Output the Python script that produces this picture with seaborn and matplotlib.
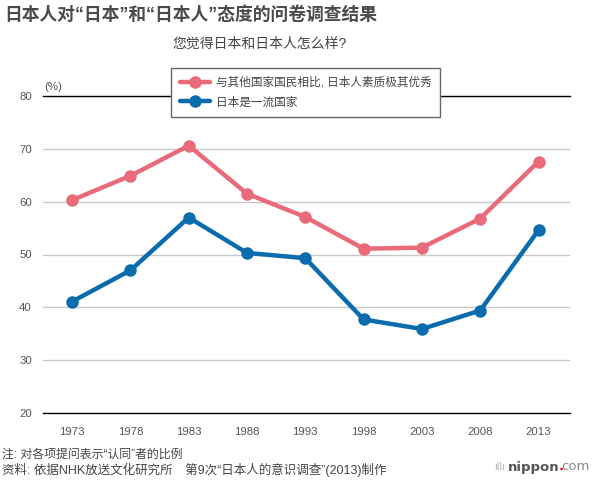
import pandas as pd
import matplotlib.pyplot as plt
import seaborn as sns

years = [1973, 1978, 1983, 1988, 1993, 1998, 2003, 2008, 2013]
superior = [60.3, 64.9, 70.6, 61.5, 57.1, 51.1, 51.3, 56.8, 67.6]
first_class = [41.1, 47.0, 57.0, 50.3, 49.3, 37.7, 35.9, 39.4, 54.6]

label_superior = "与其他国家国民相比, 日本人素质极其优秀"
label_first = "日本是一流国家"

df = pd.DataFrame({
    "year": years * 2,
    "value": superior + first_class,
    "series": [label_superior] * len(years) + [label_first] * len(years),
})

sns.set_theme(style="white")
plt.rcParams['font.family'] = ['Noto Sans CJK SC', 'DejaVu Sans']
MIXED = ['Liberation Sans', 'Noto Sans CJK SC', 'DejaVu Sans']

fig = plt.figure(figsize=(6, 4.8), dpi=100)
ax = fig.add_axes([43 / 600, 1 - 413 / 480, (570 - 43) / 600, (413 - 96) / 480])

palette = {label_superior: "#e96b7a", label_first: "#0a6cad"}
sns.lineplot(data=df, x="year", y="value", hue="series", palette=palette,
             marker="o", markersize=9, markeredgewidth=0, linewidth=3.2, ax=ax)

ax.set_xlim(1970.5, 2015.7)
ax.set_ylim(20, 80)
ax.set_xticks(years)
ax.set_yticks([20, 30, 40, 50, 60, 70, 80])
ax.set_xlabel("")
ax.set_ylabel("")
ax.grid(axis="y", color="#c8c8c8", linewidth=1)
ax.grid(axis="x", visible=False)
for side in ["left", "right"]:
    ax.spines[side].set_visible(False)
for side in ["top", "bottom"]:
    ax.spines[side].set_visible(True)
    ax.spines[side].set_color("black")
    ax.spines[side].set_linewidth(1)
ax.tick_params(axis="x", direction="in", length=7, width=1, color="black",
               pad=10, labelsize=8.2, labelcolor="#555555")
ax.tick_params(axis="y", length=0, pad=8, labelsize=8.2, labelcolor="#555555")
for lbl in ax.get_xticklabels() + ax.get_yticklabels():
    lbl.set_family(["Liberation Sans", "DejaVu Sans"])

leg = ax.legend(loc="upper left", bbox_to_anchor=(171 / 600, 1 - 68 / 480),
                bbox_transform=fig.transFigure, borderaxespad=0, frameon=True,
                fancybox=False, prop={"family": MIXED, "size": 8.4},
                handlelength=2.6, handletextpad=0.5, borderpad=0.75,
                labelspacing=0.65, framealpha=1)
leg.get_frame().set_edgecolor("#666666")
leg.get_frame().set_linewidth(1)
for t in leg.get_texts():
    t.set_color("#444444")

fig.text(44 / 600, 1 - 87 / 480, "(%)", fontsize=8.2, color="#555555",
         family=["Liberation Sans", "DejaVu Sans"], va="center")
fig.text(4 / 600, 1 - 15 / 480, "日本人对“日本”和“日本人”态度的问卷调查结果",
         fontsize=12.8, fontweight="bold", color="#4a4a4a", va="center", family=MIXED)
fig.text(260 / 600, 1 - 44 / 480, "您觉得日本和日本人怎么样?",
         fontsize=10, color="#444444", va="center", ha="center", family=MIXED)
fig.text(2 / 600, 1 - 455 / 480, "注: 对各项提问表示“认同”者的比例",
         fontsize=8.6, color="#444444", va="center", family=MIXED)
fig.text(2 / 600, 1 - 470 / 480, "资料: 依据NHK放送文化研究所　第9次“日本人的意识调查”(2013)制作",
         fontsize=9, color="#444444", va="center", family=MIXED)

# nippon.com logo, pieces placed one after another
fig.text(494 / 600, 1 - 467 / 480, "ıllı", fontsize=7, color="#aaaaaa",
         family="DejaVu Sans", va="center")
renderer = fig.canvas.get_renderer()
x = 508 / 600
for piece, weight, colour in [("nippon", "bold", "#555555"),
                              (".", "bold", "#e60012"),
                              ("com", "normal", "#888888")]:
    t = fig.text(x, 1 - 467 / 480, piece, fontsize=9.5, fontweight=weight,
                 color=colour, family="DejaVu Sans", va="center")
    bb = t.get_window_extent(renderer)
    x = (bb.x1 - 1.5) / fig.bbox.width

fig.savefig("out.png", dpi=100)
